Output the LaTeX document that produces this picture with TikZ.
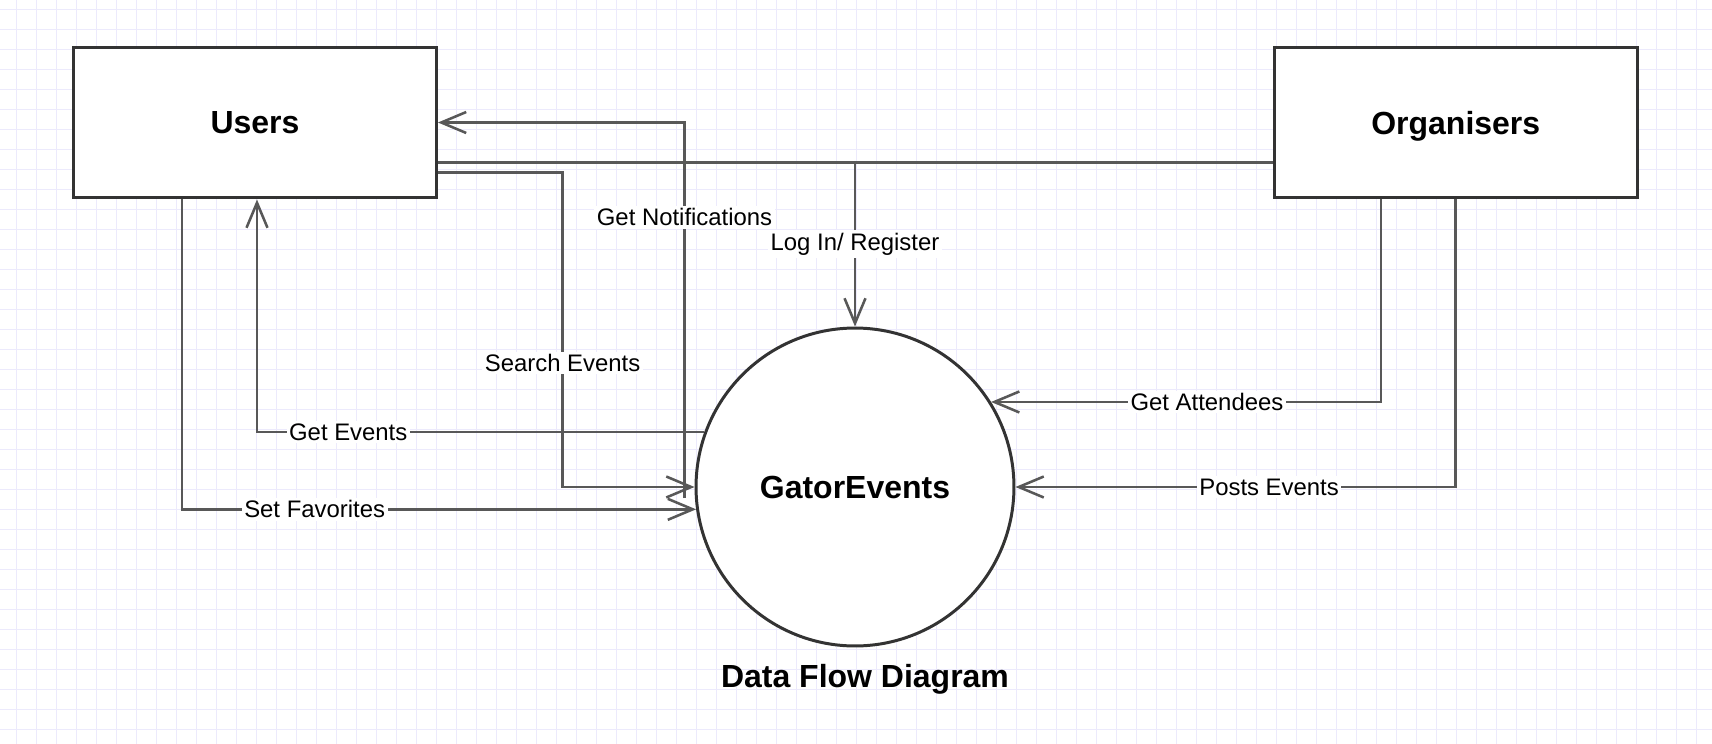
\documentclass[tikz,border=0pt]{standalone}
\usepackage{fontspec}
\setmainfont{Liberation Sans}
\usetikzlibrary{positioning, arrows.meta}

\definecolor{gridcol}{RGB}{236,234,252}
\definecolor{flowcol}{RGB}{88,88,88}
\definecolor{boxcol}{RGB}{51,51,51}

\begin{document}
\begin{tikzpicture}[x=0.02cm, y=-0.02cm,
    entity/.style={draw=boxcol, line width=1.7pt, fill=white, minimum width=7.26cm, minimum height=3.02cm, text depth=0pt, font=\fontsize{18.2}{20}\selectfont\bfseries},
    process/.style={draw=boxcol, line width=1.7pt, fill=white, shape=circle, minimum size=6.36cm, inner sep=0pt, font=\fontsize{18.2}{20}\selectfont\bfseries},
    dfline/.style={draw=flowcol, line width=1.45pt},
    dfarrow/.style={dfline, -{Straight Barb[length=0.5cm, width=0.42cm]}},
    lbl/.style={fill=white, inner sep=1.5pt, font=\fontsize{13.6}{15}\selectfont}]

    % Background grid
    \useasboundingbox (0,0) rectangle (1712,744);
    \fill[white] (0,0) rectangle (1712,744);
    \foreach \gx in {0,...,84} \draw[gridcol, line width=0.7pt] ({16.7+20*\gx},0) -- ({16.7+20*\gx},744);
    \foreach \gy in {0,...,36} \draw[gridcol, line width=0.7pt] (0,{9.3+20*\gy}) -- (1712,{9.3+20*\gy});

    % Define the entities and the process (nodes)
    \node[entity] (users) at (255,122.5) {Users};
    \node[entity, right=16.7cm of users] (org) {Organisers};
    \node[process] (gator) at (855,487) {GatorEvents};
    \node[font=\fontsize{18.2}{20}\selectfont\bfseries] (caption) at (865,679) {Data Flow Diagram};

    % Define the data flows (edges)
    \coordinate (login) at ([yshift=-0.8cm]users.east);
    \draw[dfline] (login) -- (login -| org.west);
    \draw[dfarrow] (login -| gator.north) -- node[lbl, pos=0.498] (lbllogin) {Log In/ Register} (gator.north);
    \draw[dfarrow] ([xshift=-0.2cm, yshift=-0.22cm]gator.west) |- node[lbl, pos=0.374] (lblnotif) {Get Notifications} (users.east);
    \draw[dfarrow] ([yshift=-1cm]users.east) -| node[lbl, pos=0.803] (lblsearch) {Search Events} ([xshift=-2.64cm]gator.west) -- (gator.west);
    \draw[dfarrow] (gator.160) -| node[lbl, pos=0.398] (lblget) {Get Events} ([xshift=0.04cm]users.south);
    \draw[dfarrow] ([xshift=-1.46cm]users.south) |- node[lbl, pos=0.629] (lblfav) {Set Favorites} (gator.188);
    \draw[dfarrow] ([xshift=-1.5cm]org.south) |- node[lbl, pos=0.723] (lblatt) {Get Attendees} (gator.32);
    \draw[dfarrow] (org.south) |- node[lbl, pos=0.712] (lblpost) {Posts Events} (gator.east);

\end{tikzpicture}
\end{document}
